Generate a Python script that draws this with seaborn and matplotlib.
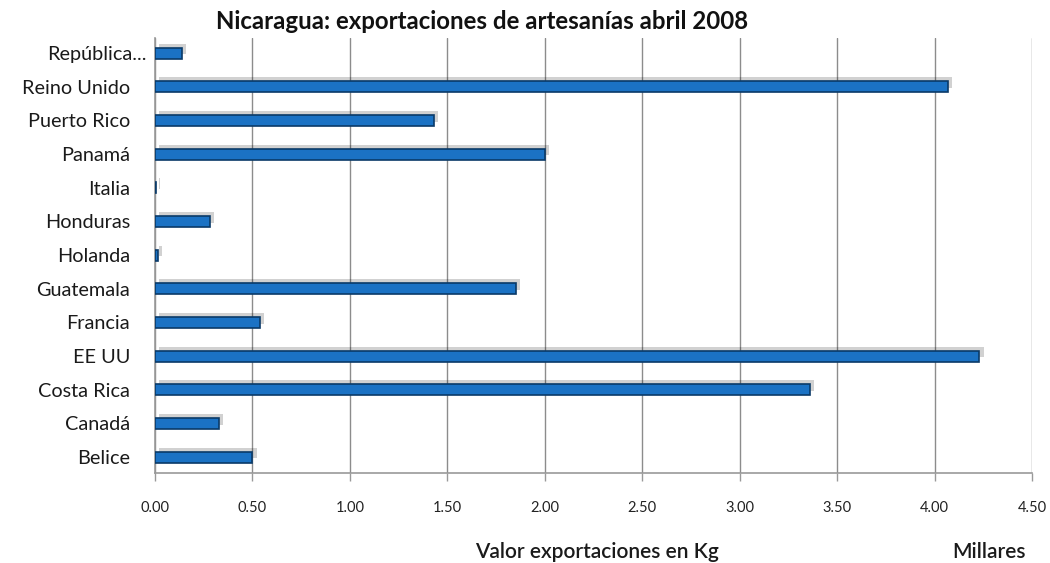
import matplotlib
matplotlib.use("Agg")
import matplotlib.pyplot as plt
import matplotlib.patheffects as pe
import seaborn as sns
import pandas as pd

paises = ["República...", "Reino Unido", "Puerto Rico", "Panamá", "Italia", "Honduras",
          "Holanda", "Guatemala", "Francia", "EE UU", "Costa Rica", "Canadá", "Belice"]
valores = [0.14, 4.07, 1.43, 2.00, 0.005, 0.28, 0.015, 1.85, 0.54, 4.23, 3.36, 0.33, 0.50]
xticks = [0.0, 0.5, 1.0, 1.5, 2.0, 2.5, 3.0, 3.5, 4.0, 4.5]

df = pd.DataFrame({"pais": paises, "valor": valores})

sns.set_theme(style="white")
plt.rcParams["font.family"] = ["Lato", "DejaVu Sans"]

fig = plt.figure(figsize=(10.5, 5.63), dpi=100)
ax = fig.add_axes([0.1476, 0.1599, 0.8353, 0.7726])

sns.barplot(data=df, x="valor", y="pais", orient="h", color="#1b72c4",
            width=0.32, saturation=1, edgecolor="#0a3a68", linewidth=1.2, ax=ax)

for p in ax.patches:
    p.set_path_effects([pe.SimplePatchShadow(offset=(3, 3), shadow_rgbFace="#000000", alpha=0.18),
                        pe.Normal()])
    p.set_zorder(3)

ax.set_xlim(0, 4.5)
ax.set_ylim(12.47, -0.45)
ax.set_xticks(xticks)
ax.set_xticklabels([f"{v:.2f}" for v in xticks], fontsize=10.5, color="#222222")
ax.tick_params(axis="x", length=6, width=1, color="#999999", pad=14, direction="out", bottom=True)
ax.tick_params(axis="y", length=0, labelsize=14.3, pad=18, labelcolor="#1a1a1a")
ax.xaxis.grid(True, color="#8c8c8c", linewidth=1.0)
ax.set_axisbelow(True)
ax.yaxis.grid(False)

# first label sits a little further right in the reference
ax.yaxis.get_major_ticks()[0].set_pad(6)

for s in ["top", "right"]:
    ax.spines[s].set_visible(False)
for s in ["left", "bottom"]:
    ax.spines[s].set_color("#999999")
    ax.spines[s].set_linewidth(1.2)

ax.set_xlabel("")
ax.set_ylabel("")

fig.text(0.459, 0.962, "Nicaragua: exportaciones de artesanías abril 2008",
         ha="center", va="center", fontsize=17.3, fontweight="bold", color="#111111")
fig.text(0.569, 0.0195, "Valor exportaciones en Kg", ha="center", va="center",
         fontsize=15, fontweight="semibold", color="#1a1a1a")
fig.text(0.942, 0.0195, "Millares", ha="center", va="center",
         fontsize=15, fontweight="semibold", color="#1a1a1a")

fig.savefig("out.png", dpi=100, facecolor="white")
